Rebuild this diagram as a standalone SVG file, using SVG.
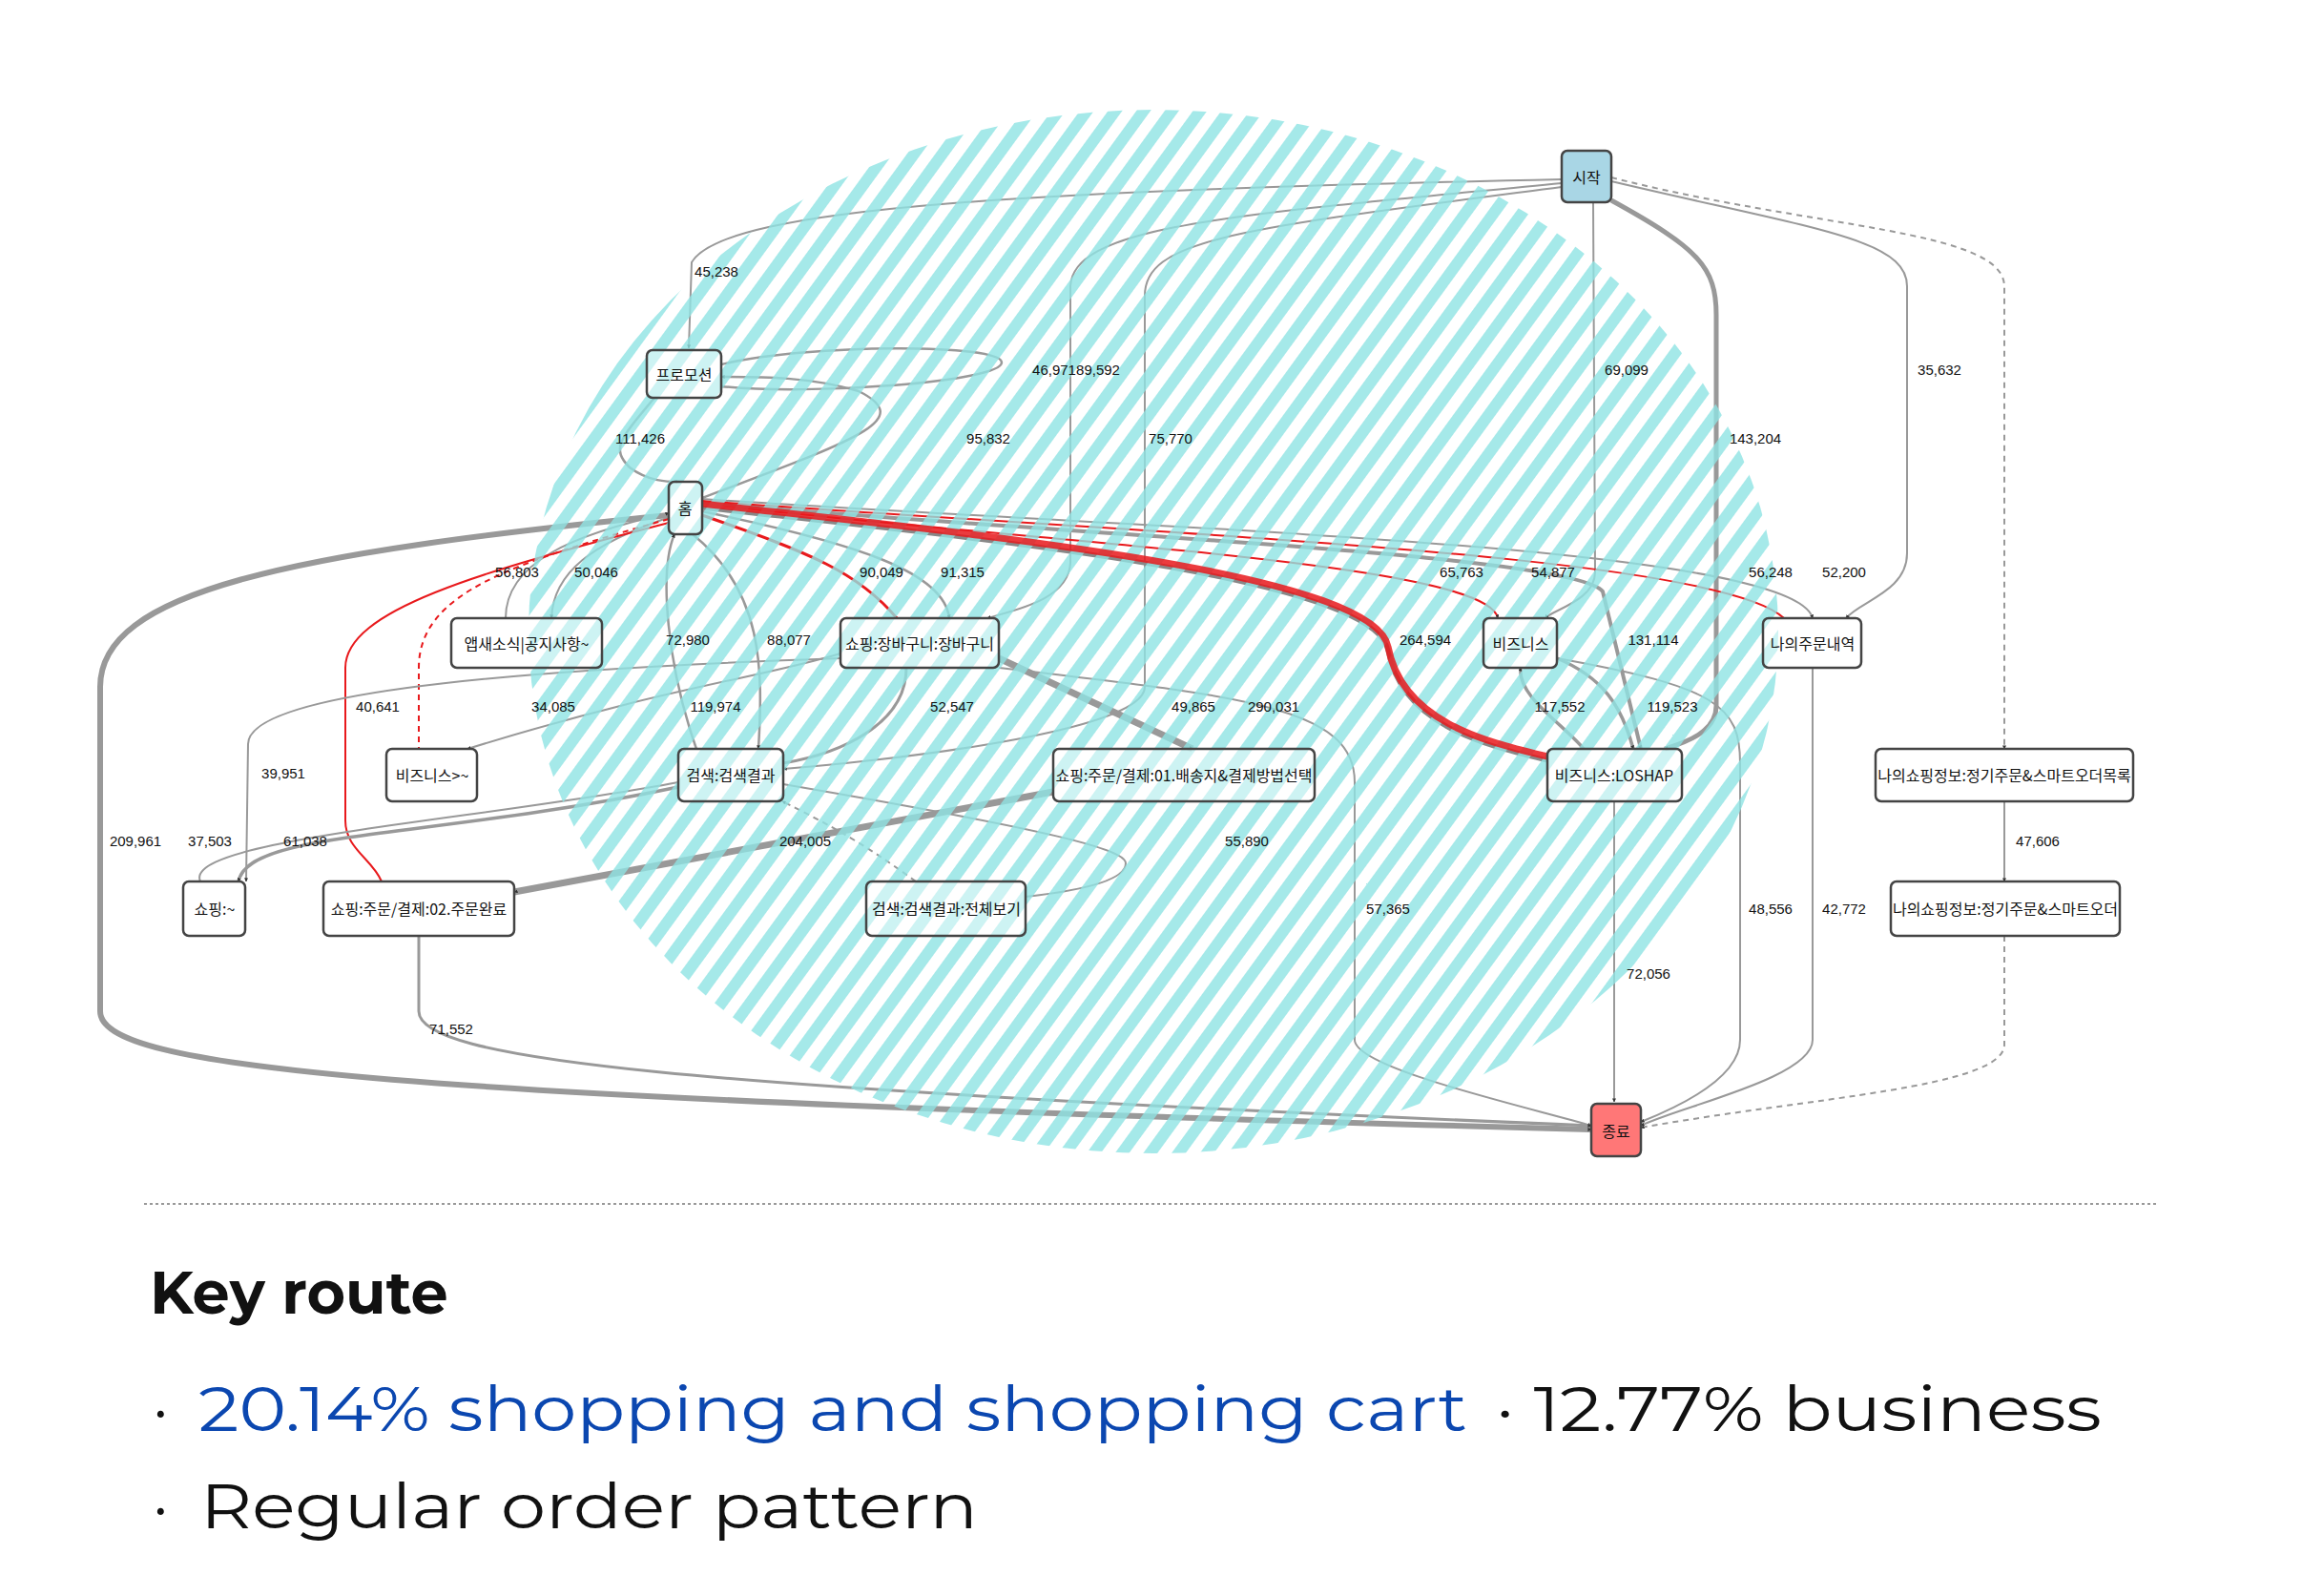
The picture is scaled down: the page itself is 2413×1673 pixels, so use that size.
<svg xmlns="http://www.w3.org/2000/svg" width="2413" height="1673" viewBox="0 0 2413 1673">
<style>
.n rect{fill:#fff;fill-opacity:0.45;stroke:#444;stroke-width:2.5}
.n text{font-family:"Noto Sans CJK KR","Noto Sans",sans-serif;font-size:16px;fill:#111;text-anchor:middle;dominant-baseline:central}
.e path{fill:none;stroke:#999;stroke-width:2}
.e .r{stroke:#e8191c}
.e .d{stroke-dasharray:6 5}
.lb text{font-family:"Liberation Sans Narrow","Liberation Sans",sans-serif;font-size:15px;fill:#111;text-anchor:middle}
.t{font-family:Montserrat,"Noto Sans",Inter,sans-serif}
</style>
<defs>
<marker id="a" viewBox="0 0 10 10" refX="9" refY="5" markerWidth="4" markerHeight="4" orient="auto" markerUnits="userSpaceOnUse"><path d="M0,0L10,5L0,10z" fill="#333"/></marker>
<pattern id="hatch" width="24" height="24" patternUnits="userSpaceOnUse" patternTransform="rotate(36)"><rect width="12" height="24" fill="#8fe3e3"/></pattern>
</defs>
<rect width="2413" height="1673" fill="#fff"/>
<g id="connectors" class="e">
<path d="M1637,188 C1100,200 760,215 725,275 L722,365" marker-end="url(#a)"/>
<path d="M1637,192 C1300,225 1125,235 1122,300 L1122,590 C1120,630 1060,640 1035,648" marker-end="url(#a)"/>
<path d="M1637,196 C1300,240 1200,250 1200,310 L1200,720 C1200,770 900,800 821,806" marker-end="url(#a)"/>
<path d="M1670,212 L1672,600 C1672,630 1625,640 1620,648" marker-end="url(#a)"/>
<path d="M1689,210 C1780,260 1799,280 1799,330 L1799,740 C1799,770 1760,780 1745,785" style="stroke-width:5" marker-end="url(#a)"/>
<path d="M1689,190 C1900,240 1999,250 1999,300 L1999,580 C1999,620 1950,630 1935,648" marker-end="url(#a)"/>
<path class="d" d="M1689,186 C1900,240 2100,240 2101,300 L2101,785" marker-end="url(#a)"/>
<path d="M2101,840 L2101,924" marker-end="url(#a)"/>
<path class="d" d="M2101,981 L2101,1095 C2101,1140 1900,1150 1720,1182" marker-end="url(#a)"/>
<path d="M686,417 C650,460 640,470 660,490 C680,505 700,505 712,505" style="stroke-width:2.5" marker-end="url(#a)"/>
<path d="M736,522 C900,460 960,440 900,410 C850,395 800,395 756,395" style="stroke-width:2.5" marker-end="url(#a)"/>
<path d="M756,382 C850,360 1050,360 1050,380 C1050,400 850,415 756,405" style="stroke-width:2.5"/>
<path d="M701,540 C300,580 105,620 105,720 L105,1060 C105,1120 400,1150 1668,1184" style="stroke-width:6" marker-end="url(#a)"/>
<path d="M530,648 C530,590 600,560 701,538" marker-end="url(#a)"/>
<path d="M702,542 C620,570 580,600 578,648" marker-end="url(#a)"/>
<path class="r d" d="M701,544 C540,590 439,620 439,700 L439,785"/>
<path class="r" d="M701,548 C500,600 362,640 362,700 L362,860 C362,890 390,900 400,924"/>
<path d="M730,785 C700,700 690,600 707,560" style="stroke-width:2.5" marker-end="url(#a)"/>
<path d="M726,560 C800,620 800,700 795,785" style="stroke-width:2.5" marker-end="url(#a)"/>
<path class="r" d="M736,540 C850,580 900,600 940,648" style="stroke-width:3"/>
<path d="M736,536 C900,570 990,600 995,648" style="stroke-width:2.5" marker-end="url(#a)"/>
<path d="M736,532 C1000,562 1440,602 1455,682 C1470,762 1560,782 1622,797" style="stroke:#888;stroke-width:5"/>
<path class="r" d="M736,528 C1100,570 1560,590 1570,648" marker-end="url(#a)"/>
<path d="M736,527 C1100,560 1650,580 1680,620 L1720,785" style="stroke-width:4" marker-end="url(#a)"/>
<path class="r" d="M736,525 C1200,560 1800,580 1870,648"/>
<path d="M736,523 C1200,555 1880,570 1900,648" marker-end="url(#a)"/>
<path d="M1660,785 C1640,760 1590,730 1594,700" style="stroke-width:3.5" marker-end="url(#a)"/>
<path d="M1632,690 C1680,710 1700,740 1712,785" style="stroke-width:3.5" marker-end="url(#a)"/>
<path d="M1047,690 L1250,785" style="stroke-width:7" marker-end="url(#a)"/>
<path d="M1047,700 C1300,730 1420,740 1420,820 L1420,1090 C1420,1120 1600,1160 1668,1180" marker-end="url(#a)"/>
<path d="M1632,690 C1800,720 1824,740 1824,800 L1824,1090 C1824,1130 1760,1160 1720,1176" marker-end="url(#a)"/>
<path d="M1900,700 L1900,1090 C1900,1130 1760,1160 1720,1180" marker-end="url(#a)"/>
<path d="M1692,840 L1692,1155" marker-end="url(#a)"/>
<path d="M950,700 C950,760 880,790 821,800" style="stroke-width:3"/>
<path d="M881,685 C800,710 700,720 490,785" marker-end="url(#a)"/>
<path d="M881,690 C600,700 260,720 260,780 L258,924" marker-end="url(#a)"/>
<path d="M711,825 C450,880 260,870 250,924" style="stroke-width:3.5" marker-end="url(#a)"/>
<path d="M711,820 C500,860 190,880 210,924"/>
<path d="M1104,830 L539,935" style="stroke-width:7" marker-end="url(#a)"/>
<path d="M821,822 C1100,870 1180,890 1180,905 C1180,925 1120,935 1075,940"/>
<path class="d" d="M960,924 C900,880 860,860 820,840" marker-end="url(#a)"/>
<path d="M439,981 L439,1060 C439,1110 700,1140 1668,1180" style="stroke-width:3" marker-end="url(#a)"/>
</g>
<ellipse cx="1209" cy="662" rx="655" ry="547" fill="url(#hatch)" opacity="0.8"/>
<g id="key-edge" class="e"><path class="r" d="M736,528 C1000,558 1440,598 1455,678 C1470,758 1560,778 1622,793" style="stroke-width:7;opacity:0.85"/></g>
<g id="n-start" class="n"><rect x="1637" y="158" width="52" height="54" rx="6" style="fill:#a9d6e5;fill-opacity:1"/><text x="1663" y="185">시작</text></g>
<g id="n-promo" class="n"><rect x="678" y="367" width="78" height="50" rx="6"/><text x="717" y="392">프로모션</text></g>
<g id="n-home" class="n"><rect x="701" y="505" width="35" height="55" rx="6"/><text x="718" y="532">홈</text></g>
<g id="n-news" class="n"><rect x="473" y="648" width="158" height="52" rx="6"/><text x="552" y="674">앱새소식|공지사항~</text></g>
<g id="n-cart" class="n"><rect x="881" y="648" width="166" height="52" rx="6"/><text x="964" y="674">쇼핑:장바구니:장바구니</text></g>
<g id="n-biz" class="n"><rect x="1555" y="648" width="77" height="52" rx="6"/><text x="1594" y="674">비즈니스</text></g>
<g id="n-myorder" class="n"><rect x="1848" y="648" width="103" height="52" rx="6"/><text x="1900" y="674">나의주문내역</text></g>
<g id="n-bizx" class="n"><rect x="405" y="785" width="95" height="55" rx="6"/><text x="453" y="812">비즈니스&gt;~</text></g>
<g id="n-search" class="n"><rect x="711" y="785" width="110" height="55" rx="6"/><text x="766" y="812">검색:검색결과</text></g>
<g id="n-order1" class="n"><rect x="1104" y="785" width="274" height="55" rx="6"/><text x="1241" y="812">쇼핑:주문/결제:01.배송지&amp;결제방법선택</text></g>
<g id="n-loshap" class="n"><rect x="1622" y="785" width="141" height="55" rx="6"/><text x="1692" y="812">비즈니스:LOSHAP</text></g>
<g id="n-smartlist" class="n"><rect x="1966" y="785" width="270" height="55" rx="6" style="fill-opacity:1"/><text x="2101" y="812">나의쇼핑정보:정기주문&amp;스마트오더목록</text></g>
<g id="n-shopx" class="n"><rect x="192" y="924" width="65" height="57" rx="6" style="fill-opacity:1"/><text x="225" y="952">쇼핑:~</text></g>
<g id="n-order2" class="n"><rect x="339" y="924" width="200" height="57" rx="6" style="fill-opacity:1"/><text x="439" y="952">쇼핑:주문/결제:02.주문완료</text></g>
<g id="n-view" class="n"><rect x="908" y="924" width="167" height="57" rx="6"/><text x="992" y="952">검색:검색결과:전체보기</text></g>
<g id="n-smart" class="n"><rect x="1982" y="924" width="240" height="57" rx="6" style="fill-opacity:1"/><text x="2102" y="952">나의쇼핑정보:정기주문&amp;스마트오더</text></g>
<g id="n-end" class="n"><rect x="1668" y="1157" width="52" height="55" rx="6" style="fill:#f77;fill-opacity:1"/><text x="1694" y="1185">종료</text></g>
<g class="lb">
<text x="751" y="290">45,238</text>
<text x="1105" y="393">46,971</text>
<text x="1151" y="393">89,592</text>
<text x="671" y="465">111,426</text>
<text x="1036" y="465">95,832</text>
<text x="1227" y="465">75,770</text>
<text x="1705" y="393">69,099</text>
<text x="1840" y="465">143,204</text>
<text x="2033" y="393">35,632</text>
<text x="542" y="605">56,803</text>
<text x="625" y="605">50,046</text>
<text x="924" y="605">90,049</text>
<text x="1009" y="605">91,315</text>
<text x="1532" y="605">65,763</text>
<text x="1628" y="605">54,877</text>
<text x="1856" y="605">56,248</text>
<text x="1933" y="605">52,200</text>
<text x="721" y="676">72,980</text>
<text x="827" y="676">88,077</text>
<text x="1494" y="676">264,594</text>
<text x="1733" y="676">131,114</text>
<text x="396" y="746">40,641</text>
<text x="580" y="746">34,085</text>
<text x="750" y="746">119,974</text>
<text x="998" y="746">52,547</text>
<text x="1251" y="746">49,865</text>
<text x="1335" y="746">290,031</text>
<text x="1635" y="746">117,552</text>
<text x="1753" y="746">119,523</text>
<text x="297" y="816">39,951</text>
<text x="142" y="887">209,961</text>
<text x="220" y="887">37,503</text>
<text x="320" y="887">61,038</text>
<text x="844" y="887">204,005</text>
<text x="1307" y="887">55,890</text>
<text x="2136" y="887">47,606</text>
<text x="1455" y="958">57,365</text>
<text x="1856" y="958">48,556</text>
<text x="1933" y="958">42,772</text>
<text x="1728" y="1026">72,056</text>
<text x="473" y="1084">71,552</text>
</g>
<line x1="151" y1="1262" x2="2262" y2="1262" stroke="#999" stroke-width="2" stroke-dasharray="3 3"/>
<text class="t" x="157" y="1377" font-size="62" font-weight="700" fill="#111">Key route</text>
<text class="t" x="160" y="1500" font-size="66" fill="#111">·</text>
<text class="t" x="208" y="1500" font-size="66" fill="#0b47b0" textLength="1330" lengthAdjust="spacingAndGlyphs">20.14% shopping and shopping cart</text>
<text class="t" x="1568" y="1500" font-size="66" fill="#111" textLength="635" lengthAdjust="spacingAndGlyphs">· 12.77% business</text>
<text class="t" x="160" y="1602" font-size="66" fill="#111">·</text>
<text class="t" x="210" y="1602" font-size="66" fill="#111" textLength="815" lengthAdjust="spacingAndGlyphs">Regular order pattern</text>
</svg>
